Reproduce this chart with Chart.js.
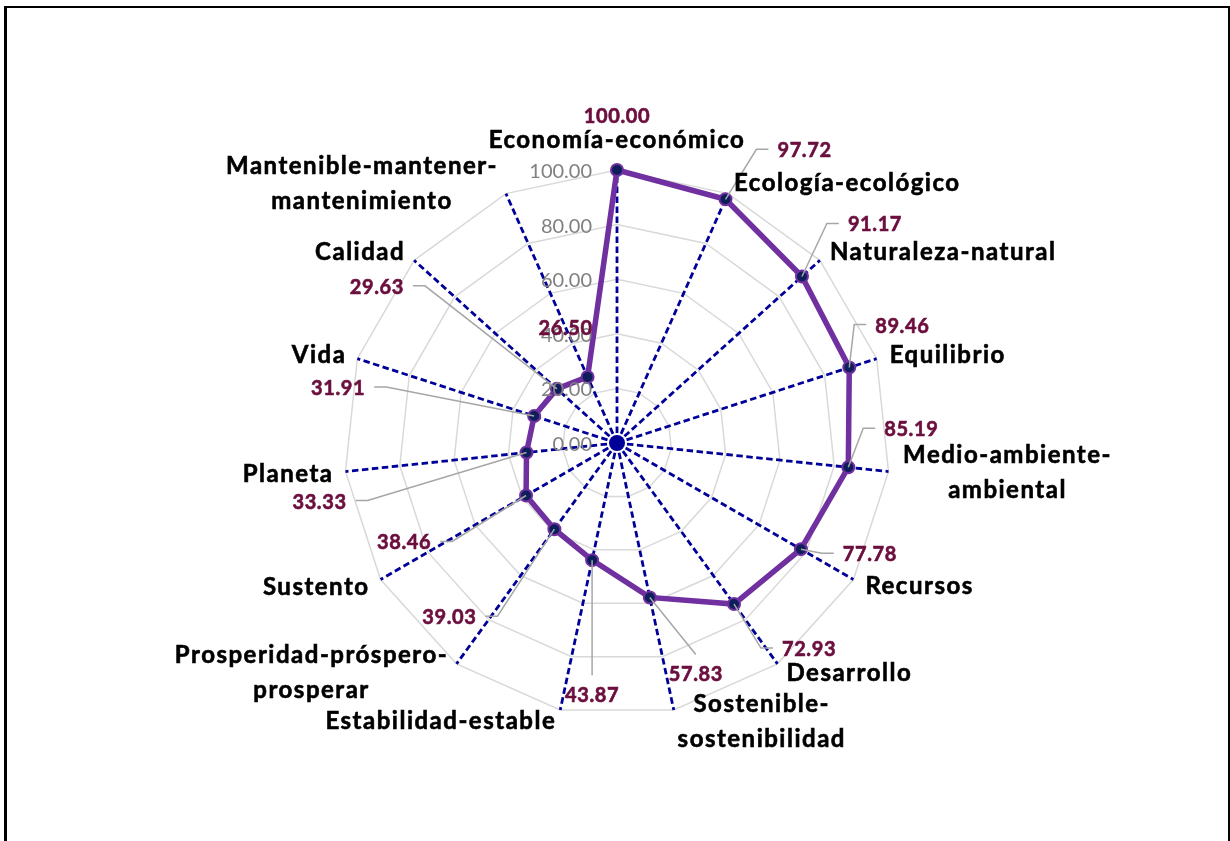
<!DOCTYPE html>
<html>
	<head>
		<title>Radar</title>
		<meta charset="UTF-8">
		<script src="https://cdn.jsdelivr.net/npm/chart.js@4"></script>
		<style>
			html, body { margin: 0; padding: 0; background: #fff; overflow: hidden; }
			#frame { position: absolute; left: 4px; top: 6px; right: 0; height: 900px;
				border-left: 3px solid #000; border-top: 2.5px solid #000; border-right: 2px solid #000; pointer-events: none; }
			canvas { position: absolute; left: 0; top: 0; }
		</style>
	</head>
	<body>
		<canvas id="myChart" width="1230" height="841"></canvas>
		<div id="frame"></div>
		<script>
			// categories, clockwise from the top
			const categories = [
				['Economía-económico'],
				['Ecología-ecológico'],
				['Naturaleza-natural'],
				['Equilibrio'],
				['Medio-ambiente-', 'ambiental'],
				['Recursos'],
				['Desarrollo'],
				['Sostenible-', 'sostenibilidad'],
				['Estabilidad-estable'],
				['Prosperidad-próspero-', 'prosperar'],
				['Sustento'],
				['Planeta'],
				['Vida'],
				['Calidad'],
				['Mantenible-mantener-', 'mantenimiento']
			];
			const values = [100.00, 97.72, 91.17, 89.46, 85.19, 77.78, 72.93, 57.83,
				43.87, 39.03, 38.46, 33.33, 31.91, 29.63, 26.50];

			// where the value labels sit, offset from their point: dx, dy, leader side
			const valueLabelPlace = [
				[0, -47, ''], [79, -42, 'L'], [73, -45, 'L'], [53, -35, 'L'], [63, -31, 'L'],
				[69, 12, 'L'], [75, 52, 'L'], [46, 84, 'T'], [0, 142, 'T'], [-105, 95, 'R'],
				[-122, 54, 'R'], [-207, 56, 'R'], [-196, -21, 'R'], [-180, -95, 'R'], [-22, -42, '']
			];
			// where the category names sit, offset from the end of their spoke
			const categoryPlace = [
				[0, -22, 'center'], [6, -3, 'left'], [10, 0, 'left'], [13, 4, 'left'], [119, -9, 'center'],
				[12, 14, 'left'], [9, 17, 'left'], [88, 2, 'center'], [-4, 19, 'right'], [-145, -1, 'center'],
				[-11, 15, 'right'], [-12, 10, 'right'], [-11, 4, 'right'], [-9, 0, 'right'], [-144, -20, 'center']
			];

			function boldText(ctx, s, x, y, color) {
				ctx.fillStyle = color;
				ctx.strokeStyle = color;
				ctx.lineWidth = 0.6;
				ctx.fillText(s, x, y);
				ctx.strokeText(s, x, y);
			}

			const labelPlugin = {
				id: 'labelPlugin',
				beforeDatasetsDraw(chart) {
					const r = chart.scales.r;
					const ctx = chart.ctx;
					ctx.save();
					ctx.fillStyle = '#000099';
					ctx.beginPath();
					ctx.arc(r.xCenter, r.yCenter, 8, 0, Math.PI * 2);
					ctx.fill();
					ctx.restore();
				},
				afterDatasetsDraw(chart) {
					const r = chart.scales.r;
					const ctx = chart.ctx;
					ctx.save();
					ctx.textBaseline = 'alphabetic';

					// axis tick labels, left of the vertical spoke
					ctx.font = '20px Lato';
					ctx.fillStyle = '#808080';
					ctx.textAlign = 'right';
					r.ticks.forEach(t => {
						const y = r.yCenter - r.getDistanceFromCenterForValue(t.value);
						ctx.fillText(t.value.toFixed(2), r.xCenter - 25, y + 8);
					});

					// leader lines and value labels
					ctx.font = 'bold 20px Lato';
					ctx.letterSpacing = '0.6px';
					ctx.textAlign = 'center';
					values.forEach((v, i) => {
						const p = r.getPointPositionForValue(i, v);
						const [dx, dy, side] = valueLabelPlace[i];
						const cx = p.x + dx, by = p.y + dy;
						const txt = v.toFixed(2);
						const w = ctx.measureText(txt).width;
						if (side) {
							ctx.strokeStyle = '#A6A6A6';
							ctx.lineWidth = 1.5;
							ctx.beginPath();
							ctx.moveTo(p.x, p.y);
							if (side === 'L') {
								ctx.lineTo(cx - w / 2 - 21, by - 8);
								ctx.lineTo(cx - w / 2 - 9, by - 8);
							} else if (side === 'R') {
								ctx.lineTo(cx + w / 2 + 21, by - 8);
								ctx.lineTo(cx + w / 2 + 9, by - 8);
							} else {
								ctx.lineTo(cx, by - 27);
							}
							ctx.stroke();
						}
						boldText(ctx, txt, cx, by, '#6B0F3E');
					});

					// category names
					ctx.font = 'bold 24px Lato';
					ctx.letterSpacing = '1.5px';
					categories.forEach((lines, i) => {
						const e = r.getPointPosition(i, r.drawingArea);
						const [dx, dy, align] = categoryPlace[i];
						ctx.textAlign = align;
						lines.forEach((s, k) => boldText(ctx, s, e.x + dx, e.y + dy + k * 35, '#000'));
					});
					ctx.restore();
				}
			};

			const ctx = document.getElementById('myChart').getContext('2d');
			const chart = new Chart(ctx, {
				type: 'radar',
				data: {
					labels: categories,
					datasets: [{
						data: values,
						borderColor: '#7030A0',
						borderWidth: 5.5,
						backgroundColor: 'transparent',
						fill: false,
						pointRadius: 6,
						pointBackgroundColor: '#0D1E5B',
						pointBorderColor: '#7030A0',
						pointBorderWidth: 2,
						clip: false
					}]
				},
				options: {
					responsive: false,
					animation: false,
					layout: { padding: { left: 344, right: 339, top: 170, bottom: 124 } },
					plugins: { legend: { display: false }, tooltip: { enabled: false } },
					scales: {
						r: {
							min: 0,
							max: 100,
							ticks: { stepSize: 20, display: false },
							pointLabels: { display: false },
							grid: { color: '#D9D9D9', lineWidth: 1.5 },
							angleLines: { color: '#000099', lineWidth: 2.8, borderDash: [6.5, 3.5] }
						}
					}
				},
				plugins: [labelPlugin]
			});
		</script>
	</body>
</html>
